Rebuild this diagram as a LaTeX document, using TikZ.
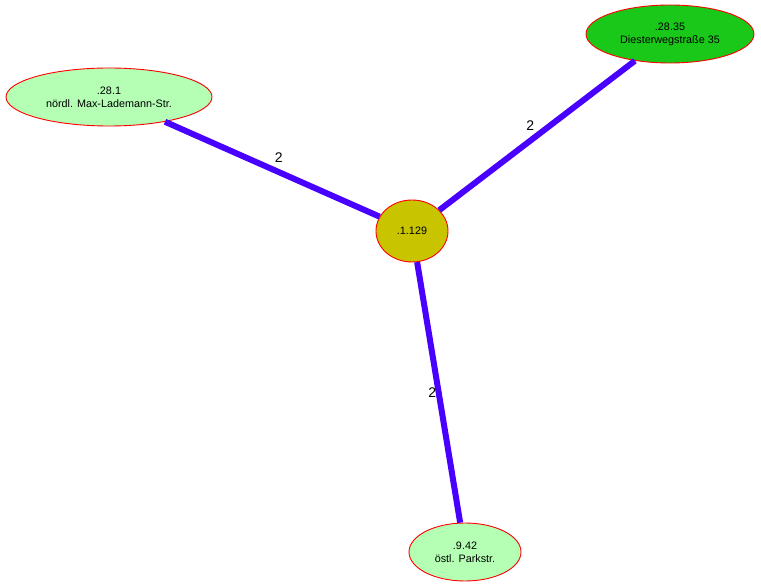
\documentclass[tikz,border=0pt]{standalone}
\usepackage{fontspec}
\setmainfont{Liberation Sans}
\usepackage{xcolor}
\usepackage{tikz}
\usetikzlibrary{calc, shapes.geometric, positioning}

\definecolor{hellgruen}{RGB}{180,255,180}
\definecolor{gruen}{RGB}{26,200,26}
\definecolor{oliv}{RGB}{200,196,0}
\definecolor{kante}{RGB}{72,0,255}

\begin{document}
\begin{tikzpicture}[x=1pt, y=-1pt,
    knoten/.style={ellipse, draw=red, line width=0.9pt, inner sep=0pt, align=center,
        font=\fontsize{10.8}{13}\selectfont},
    verbindung/.style={draw=kante, line width=6pt},
    gewicht/.style={font=\fontsize{14}{16}\selectfont, inner sep=1pt}]
    % 1. Rahmen des Bildes
    \useasboundingbox (0,0) rectangle (761,588);

    % 2. Knoten
    \node[knoten, fill=oliv, minimum width=72pt, minimum height=62pt] (n1129) at (412,231) {.1.129};
    \node[knoten, fill=hellgruen, minimum width=206pt, minimum height=58pt] (n281) at (109,97) {.28.1\\nördl. Max-Lademann-Str.};
    \node[knoten, fill=gruen, minimum width=168pt, minimum height=58pt] (n2835) at (670,34) {.28.35\\Diesterwegstraße 35};
    \node[knoten, fill=hellgruen, minimum width=112pt, minimum height=58pt] (n942) at (465,552) {.9.42\\östl. Parkstr.};

    % 3. Kanten mit Gewichten
    \draw[verbindung] (n281) -- (n1129)
        node[gewicht, pos=0.53, above=6pt, text=black] {2};
    \draw[verbindung] (n2835) -- (n1129)
        node[gewicht, pos=0.535, above=6pt, text=black] {2};
    \draw[verbindung] (n1129) -- (n942)
        node[gewicht, pos=0.5, left=-1.5pt, text=black] {2};
\end{tikzpicture}
\end{document}
